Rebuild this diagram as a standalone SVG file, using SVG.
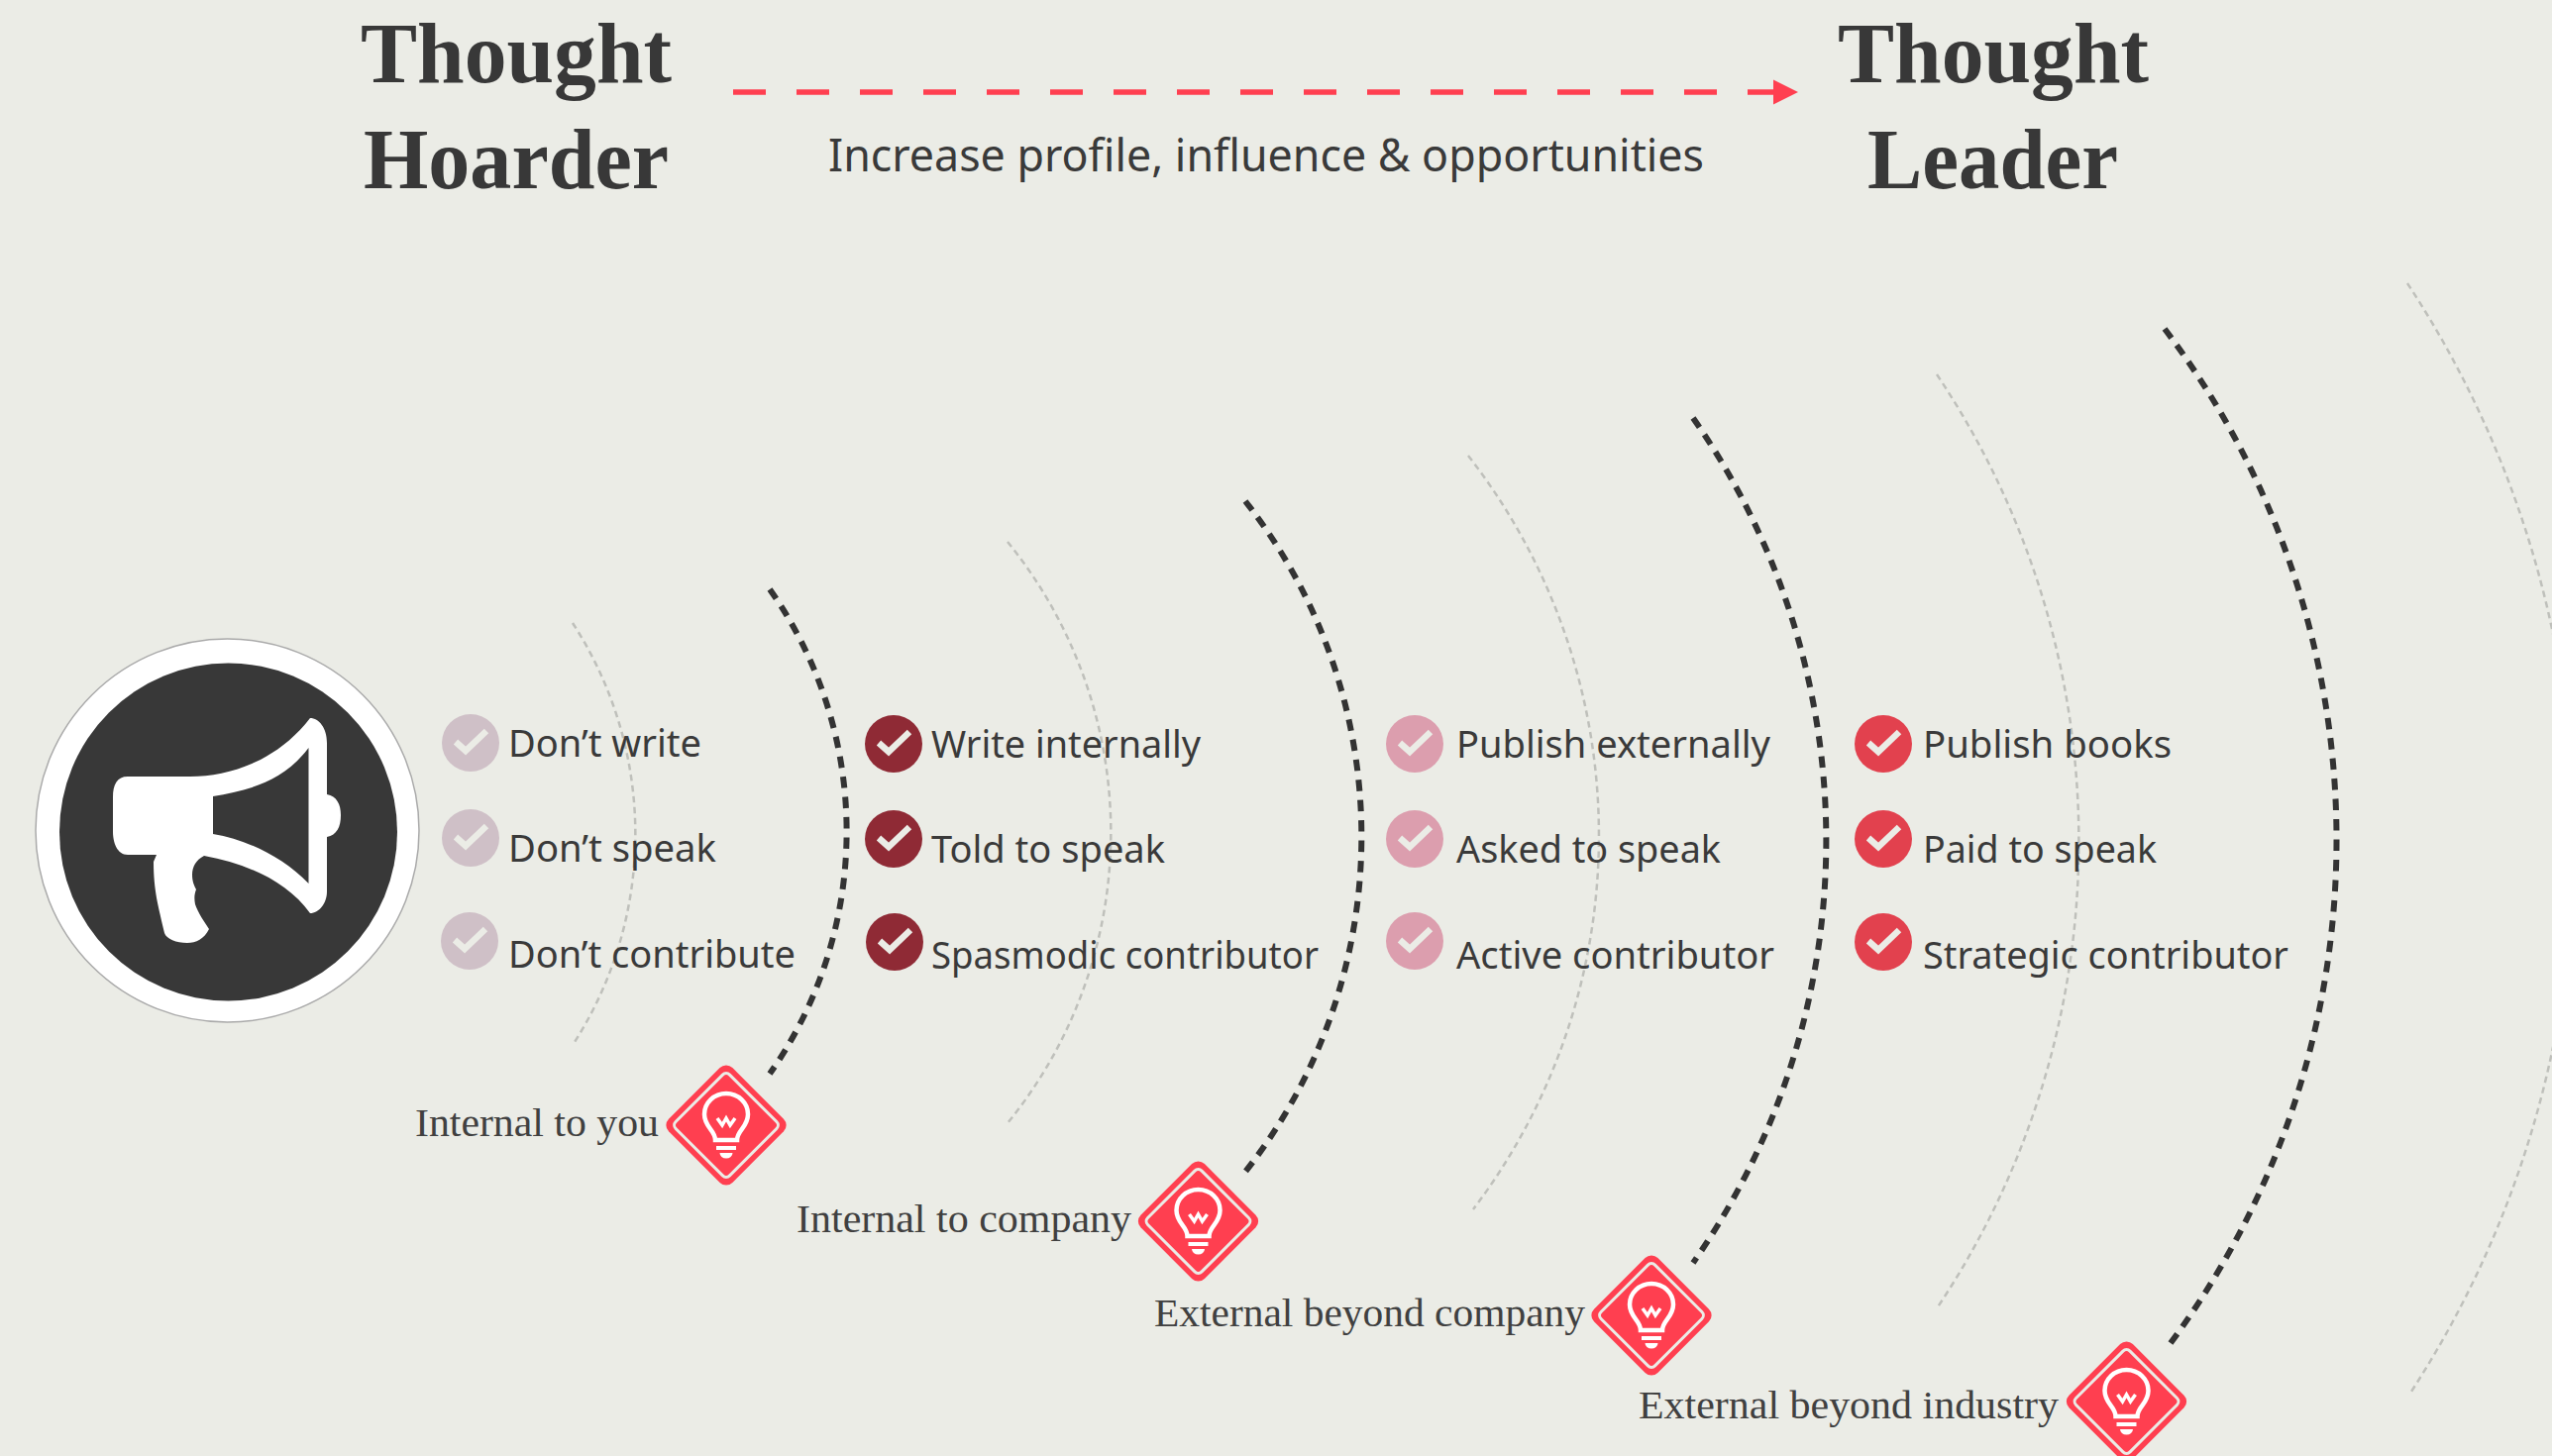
<svg xmlns="http://www.w3.org/2000/svg" xmlns:xlink="http://www.w3.org/1999/xlink" width="2576" height="1470" viewBox="0 0 2576 1470">
<style>
.bg{fill:#ebece6}
.t{font-family:"Noto Sans","Liberation Sans",sans-serif;font-size:38px;fill:#3a3a3a}
.h{font-family:"Liberation Serif",serif;font-weight:700;font-size:86px;fill:#383838;text-anchor:start}
.l{font-family:"Liberation Serif",serif;font-size:40px;fill:#404040}
.dark{fill:none;stroke:#333;stroke-width:6;stroke-dasharray:11.5 9}
.faint{fill:none;stroke:#bfc0bb;stroke-width:2.5;stroke-dasharray:6.5 4.5}
.c1{fill:#cfc0c7}.c2{fill:#8f2a35}.c3{fill:#dc9eae}.c4{fill:#e2414e}
</style>
<defs>
<marker id="ah" markerUnits="userSpaceOnUse" markerWidth="26" markerHeight="27" refX="25" refY="13" orient="auto"><path d="M0 0.500L25 13L0 25.500Z" fill="#ff3f50"/></marker>
<g id="chk"><path d="M-15 -1L-5 8L16 -12" fill="none" stroke="#ebece6" stroke-width="6.5"/></g>
<g id="dia">
<rect x="-45.500" y="-45.500" width="91" height="91" rx="9" transform="rotate(45)" fill="#ff3f50"/>
<rect x="-38.500" y="-38.500" width="77" height="77" rx="5" transform="rotate(45)" fill="#ff3f50" stroke="#ebece6" stroke-width="3"/>
<path d="M-11 15C-11 5-22 2-22-11A22 21 0 1 1 22-11C22 2 11 5 11 15Z" fill="none" stroke="#fff" stroke-width="4.500"/>
<path d="M-9-7L-4 0L0-7L4 0L9-7" fill="none" stroke="#fff" stroke-width="3.500"/>
<rect x="-10" y="21" width="20" height="4" fill="#fff"/>
<path d="M-6.500 28H6.500A6.500 5.500 0 0 1-6.500 28Z" fill="#fff"/>
</g>
</defs>
<rect class="bg" width="2576" height="1470"/>
<g id="connectors">
<path class="faint" d="M578 629A390 390 0 0 1 580 1052"/>
<path class="dark" d="M777 595A424 424 0 0 1 777 1084"/>
<path class="faint" d="M1017 547A465 465 0 0 1 1017 1134"/>
<path class="dark" d="M1257 506A547 547 0 0 1 1257 1183"/>
<path class="faint" d="M1482 460A624 624 0 0 1 1487 1221"/>
<path class="dark" d="M1709 422A744 744 0 0 1 1709 1275"/>
<path class="faint" d="M1955 378A847 847 0 0 1 1955 1321"/>
<path class="dark" d="M2185 332A854 854 0 0 1 2188 1360"/>
<path class="faint" d="M2430 286A1023 1023 0 0 1 2432 1408"/>
<path id="arrow" d="M740 93H1815" fill="none" stroke="#ff3f50" stroke-width="5.300" stroke-dasharray="33 31" marker-end="url(#ah)"/>
</g>
<g id="title-left">
<text class="h" x="364" y="83" textLength="314" lengthAdjust="spacingAndGlyphs">Thought</text>
<text class="h" x="367" y="190" textLength="308" lengthAdjust="spacingAndGlyphs">Hoarder</text>
</g>
<g id="title-right">
<text class="h" x="1855" y="83" textLength="314" lengthAdjust="spacingAndGlyphs">Thought</text>
<text class="h" x="1885" y="190" textLength="253" lengthAdjust="spacingAndGlyphs">Leader</text>
</g>
<text id="subtitle" class="t" style="font-size:46px" x="836" y="173" textLength="884" lengthAdjust="spacingAndGlyphs">Increase profile, influence &amp; opportunities</text>
<g id="megaphone">
<circle cx="229.500" cy="838.500" r="193.500" fill="#fff" stroke="#aaa" stroke-width="1.500"/>
<circle cx="230.500" cy="840" r="170.500" fill="#383838"/>
<path fill="#fff" fill-rule="evenodd" d="M129 784H192C232 784 280 768 313 725C322 725 330 735 330 750V802C340 804 344 812 344 823C344 835 340 843 330 845V900C330 912 322 922 313 922C290 890 250 872 206 864C198 868 194 875 194 883C194 890 196 894 198 898C196 903 196 908 197 913C200 922 206 930 211 938C206 948 198 952 189 952C178 952 168 948 166 942C160 915 155 900 155 870L158 863H129C118 863 114 850 114 840V805C114 792 118 784 129 784ZM311.500 755C285 790 250 798 215 804V842C250 848 285 865 311.500 892Z"/>
</g>
<g id="col1">
<circle class="c1" cx="475" cy="750" r="29"/><use href="#chk" x="475" y="750"/><text class="t" x="513" y="764" textLength="195" lengthAdjust="spacingAndGlyphs">Don’t write</text>
<circle class="c1" cx="475" cy="846" r="29"/><use href="#chk" x="475" y="846"/><text class="t" x="513" y="870" textLength="210" lengthAdjust="spacingAndGlyphs">Don’t speak</text>
<circle class="c1" cx="474" cy="950" r="29"/><use href="#chk" x="474" y="950"/><text class="t" x="513" y="977" textLength="290" lengthAdjust="spacingAndGlyphs">Don’t contribute</text>
</g>
<g id="col2">
<circle class="c2" cx="902" cy="751" r="29"/><use href="#chk" x="902" y="751"/><text class="t" x="940" y="765" textLength="272" lengthAdjust="spacingAndGlyphs">Write internally</text>
<circle class="c2" cx="902" cy="847" r="29"/><use href="#chk" x="902" y="847"/><text class="t" x="940" y="871" textLength="236" lengthAdjust="spacingAndGlyphs">Told to speak</text>
<circle class="c2" cx="903" cy="951" r="29"/><use href="#chk" x="903" y="951"/><text class="t" x="940" y="978" textLength="391" lengthAdjust="spacingAndGlyphs">Spasmodic contributor</text>
</g>
<g id="col3">
<circle class="c3" cx="1428" cy="751" r="29"/><use href="#chk" x="1428" y="751"/><text class="t" x="1470" y="765" textLength="317" lengthAdjust="spacingAndGlyphs">Publish externally</text>
<circle class="c3" cx="1428" cy="847" r="29"/><use href="#chk" x="1428" y="847"/><text class="t" x="1470" y="871" textLength="267" lengthAdjust="spacingAndGlyphs">Asked to speak</text>
<circle class="c3" cx="1428" cy="950" r="29"/><use href="#chk" x="1428" y="950"/><text class="t" x="1470" y="978" textLength="321" lengthAdjust="spacingAndGlyphs">Active contributor</text>
</g>
<g id="col4">
<circle class="c4" cx="1901" cy="751" r="29"/><use href="#chk" x="1901" y="751"/><text class="t" x="1941" y="765" textLength="251" lengthAdjust="spacingAndGlyphs">Publish books</text>
<circle class="c4" cx="1901" cy="847" r="29"/><use href="#chk" x="1901" y="847"/><text class="t" x="1941" y="871" textLength="236" lengthAdjust="spacingAndGlyphs">Paid to speak</text>
<circle class="c4" cx="1901" cy="951" r="29"/><use href="#chk" x="1901" y="951"/><text class="t" x="1941" y="978" textLength="369" lengthAdjust="spacingAndGlyphs">Strategic contributor</text>
</g>
<g id="stage1"><text class="l" x="419" y="1147" textLength="246" lengthAdjust="spacingAndGlyphs">Internal to you</text><use href="#dia" x="733" y="1136"/></g>
<g id="stage2"><text class="l" x="804" y="1244" textLength="338" lengthAdjust="spacingAndGlyphs">Internal to company</text><use href="#dia" x="1209.500" y="1233"/></g>
<g id="stage3"><text class="l" x="1165" y="1339" textLength="435" lengthAdjust="spacingAndGlyphs">External beyond company</text><use href="#dia" x="1667" y="1328"/></g>
<g id="stage4"><text class="l" x="1654" y="1432" textLength="424" lengthAdjust="spacingAndGlyphs">External beyond industry</text><use href="#dia" x="2146.500" y="1415"/></g>
</svg>
